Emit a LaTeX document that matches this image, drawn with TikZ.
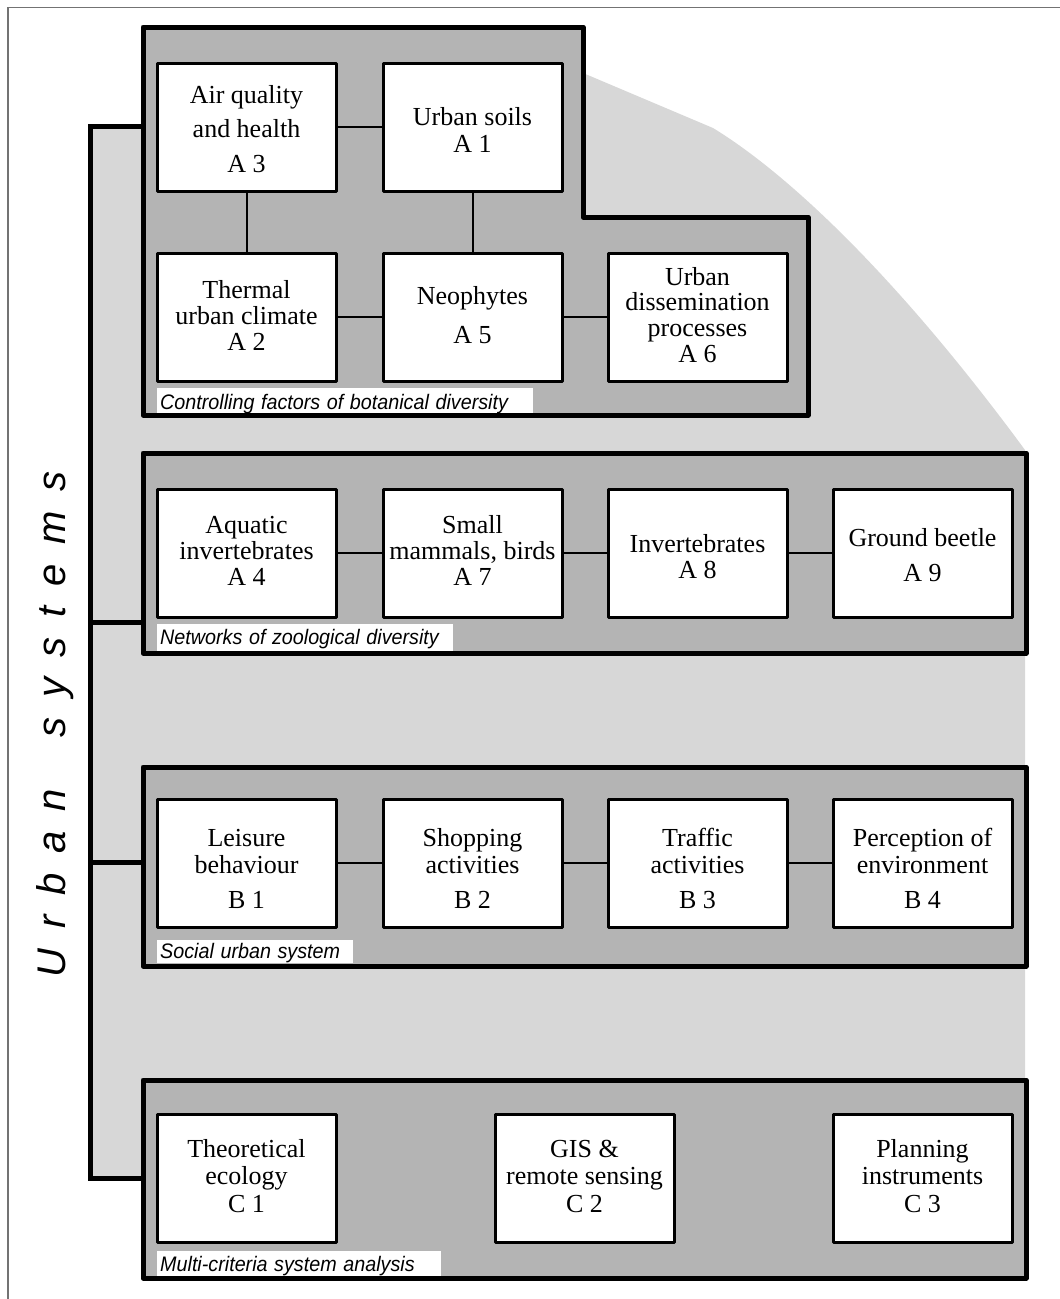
\documentclass[tikz,border=0pt]{standalone}
\usepackage{fontspec}
\usepackage{graphicx}
\setmainfont{Liberation Serif}
\newfontfamily\labfont{Liberation Sans}
\definecolor{grpc}{gray}{0.706}
\definecolor{bglc}{gray}{0.843}
\definecolor{frc}{gray}{0.45}
\newcommand\bxt[3]{\parbox[c][128pt][t]{179pt}{\centering\fontsize{26}{#2}\selectfont\vspace*{\dimexpr#1pt-18pt\relax}\rule{0pt}{18pt}#3\par}}
\newcommand\lk{\kern20pt}
\newcommand\labtxt[1]{\scalebox{0.94}[1]{#1}}
\begin{document}
\begin{tikzpicture}[x=1pt,y=-1pt,
  box/.style={draw, line width=3pt, fill=white, inner sep=0pt, rectangle, line join=round},
  grp/.style={draw, line width=5pt, fill=grpc, line join=round},
  con/.style={line width=2pt},
  brk/.style={line width=5pt},
  lab/.style={fill=white, inner xsep=3pt, inner ysep=0pt, anchor=north west, align=left,
              font=\labfont\itshape\fontsize{21}{21}\selectfont}]
\useasboundingbox (0,0) rectangle (1060,1299);
% outer frame
\draw[line width=1.5pt, draw=frc] (8,1310) -- (8,7.5) -- (1070,7.5);
% light grey background
\fill[bglc] (90,126) -- (143,126) -- (143,73) -- (583,73) -- (713,128)
  .. controls (790,175) and (900,280) .. (1025,450) -- (1025,1080) -- (143,1080)
  -- (143,1178) -- (90,1178) -- cycle;
% bracket
\coordinate (gAw) at (143,126);
\coordinate (gZw) at (143,622);
\coordinate (gSw) at (143,862);
\coordinate (gCw) at (143,1178);
\coordinate (bZ) at (90,622);
\coordinate (bS) at (90,862);
\coordinate (bC) at (90,1178);
\draw[brk] (gAw) -| (bC) -- (gCw);
\draw[brk] (bZ) -- (gZw);
\draw[brk] (bS) -- (gSw);
% title
\node[rotate=90, anchor=base west, inner sep=0pt,
      font=\labfont\itshape\fontsize{40}{40}\selectfont] (title) at (65,978)
  {U\lk r\lk b\lk a\lk n\lk\ \lk s\lk y\lk s\lk t\lk e\lk m\lk s};
% groups
\draw[grp] (143,27) -- (583,27) -- (583,217) -- (808,217) -- (808,415) -- (143,415) -- cycle;
\draw[grp] (143,453) rectangle (1026,653);
\draw[grp] (143,767) rectangle (1026,966);
\draw[grp] (143,1080) rectangle (1026,1278);
% boxes group A
\node[box] (a3) at (246.5,127) {\bxt{40}{34.5}{Air quality\\and health\\A 3}};
\node[box] (a1) at (472.5,127) {\bxt{62}{27}{Urban soils\\A 1}};
\node[box] (a2) at (246.5,317) {\bxt{45}{26}{Thermal\\urban climate\\A 2}};
\node[box] (a5) at (472.5,317) {\bxt{51}{39}{Neophytes\\A 5}};
\node[box] (a6) at (697.5,317) {\bxt{32}{25.7}{Urban\\dissemination\\processes\\A 6}};
% boxes zoo
\node[box] (a4) at (246.5,553) {\bxt{44}{26}{Aquatic\\invertebrates\\A 4}};
\node[box] (a7) at (472.5,553) {\bxt{44}{26}{Small\\mammals, birds\\A 7}};
\node[box] (a8) at (697.5,553) {\bxt{63}{26}{Invertebrates\\A 8}};
\node[box] (a9) at (922.5,553) {\bxt{57}{35}{Ground beetle\\A 9}};
% boxes social
\node[box] (b1) at (246.5,863) {\bxt{47}{27}{Leisure\\behaviour\\[8pt]B 1}};
\node[box] (b2) at (472.5,863) {\bxt{47}{27}{Shopping\\activities\\[8pt]B 2}};
\node[box] (b3) at (697.5,863) {\bxt{47}{27}{Traffic\\activities\\[8pt]B 3}};
\node[box] (b4) at (922.5,863) {\bxt{47}{27}{Perception of\\environment\\[8pt]B 4}};
% boxes C
\node[box] (c1) at (246.5,1178) {\bxt{43}{27.5}{Theoretical\\ecology\\C 1}};
\node[box] (c2) at (584.5,1178) {\bxt{43}{27.5}{GIS \&\\remote sensing\\C 2}};
\node[box] (c3) at (922.5,1178) {\bxt{43}{27.5}{Planning\\instruments\\C 3}};
% connectors
\draw[con] (a3) -- (a1);
\draw[con] (a3) -- (a2);
\draw[con] (a1) -- (a5);
\draw[con] (a2) -- (a5);
\draw[con] (a5) -- (a6);
\draw[con] (a4) -- (a7);
\draw[con] (a7) -- (a8);
\draw[con] (a8) -- (a9);
\draw[con] (b1) -- (b2);
\draw[con] (b2) -- (b3);
\draw[con] (b3) -- (b4);
% labels
\node[lab, text width=370pt, text height=21pt, text depth=4pt] (labA) at (157,388) {\labtxt{Controlling factors of botanical diversity}};
\node[lab, text width=290pt, text height=20pt, text depth=7pt] (labZ) at (157,624) {\labtxt{Networks of zoological diversity}};
\node[lab, text width=190pt, text height=18pt, text depth=5pt] (labS) at (157,940) {\labtxt{Social urban system}};
\node[lab, text width=278pt, text height=20pt, text depth=5pt] (labC) at (157,1251) {\labtxt{Multi-criteria system analysis}};
\end{tikzpicture}
\end{document}
